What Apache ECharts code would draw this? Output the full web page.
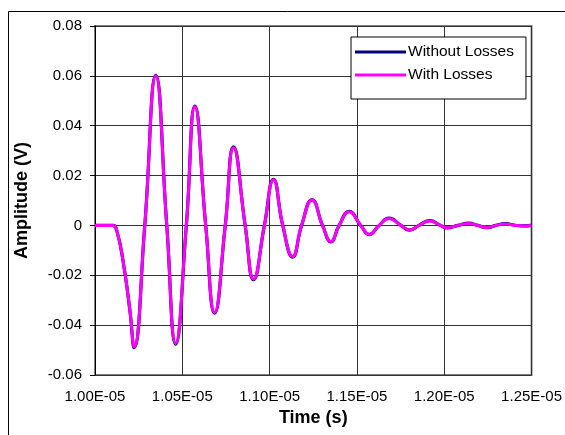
<!DOCTYPE html>
<html>
<head>
<meta charset="utf-8">
<script src="https://cdn.jsdelivr.net/npm/echarts@6/dist/echarts.min.js"></script>
<style>
html,body{margin:0;padding:0;background:#fff;}
#c{width:565px;height:435px;}
</style>
</head>
<body>
<div id="c"></div>
<script>
// Time in microseconds (axis shows seconds in E notation)
var timeUs = [10.000, 10.103, 10.126, 10.160, 10.200, 10.224, 10.285, 10.348, 10.411, 10.462,
  10.523, 10.572, 10.634, 10.685, 10.746, 10.793, 10.860, 10.908, 10.970, 11.022,
  11.075, 11.132, 11.183, 11.243, 11.303, 11.351, 11.398, 11.455, 11.522, 11.570,
  11.627, 11.684, 11.752, 11.802, 11.855, 11.916, 11.979, 12.017, 12.078, 12.140,
  12.192, 12.245, 12.295, 12.350, 12.409, 12.454, 12.500];
var withoutLosses = [0, 0, -0.0025, -0.0140, -0.0342, -0.0490, 0, 0.0602, 0, -0.0476,
  0, 0.0479, 0, -0.0352, 0, 0.0315, 0, -0.0218, 0, 0.0185,
  0, -0.0127, 0, 0.0103, 0, -0.0066, 0, 0.0056, 0, -0.0037,
  0, 0.0029, 0, -0.0019, 0, 0.0019, 0, -0.0010, 0, 0.0009,
  0, -0.0009, 0, 0.0007, 0, -0.0002, 0];
var withLosses = [0, 0, -0.0025, -0.0139, -0.0340, -0.0487, 0, 0.0599, 0, -0.0473,
  0, 0.0476, 0, -0.0349, 0, 0.0312, 0, -0.0215, 0, 0.0183,
  0, -0.0125, 0, 0.0102, 0, -0.0065, 0, 0.0055, 0, -0.0036,
  0, 0.0028, 0, -0.0018, 0, 0.0018, 0, -0.0009, 0, 0.0008,
  0, -0.0008, 0, 0.0006, 0, -0.0002, 0];
var seriesNames = ['Without Losses', 'With Losses'];
var xTickLabels = ['1.00E-05', '1.05E-05', '1.10E-05', '1.15E-05', '1.20E-05', '1.25E-05'];
var yTickLabels = ['-0.06', '-0.04', '-0.02', '0', '0.02', '0.04', '0.06', '0.08'];

function pairs(xs, ys) { return xs.map(function (x, i) { return [x, ys[i]]; }); }

var FONT = 'Arial, "Liberation Sans", sans-serif';
var chart = echarts.init(document.getElementById('c'), null, {renderer: 'canvas'});
chart.setOption({
  backgroundColor: '#fff',
  animation: false,
  textStyle: {fontFamily: FONT},
  graphic: [{
    type: 'rect', z: -10, silent: true,
    shape: {x: 8.5, y: 11.5, width: 700, height: 600},
    style: {fill: 'none', stroke: '#000', lineWidth: 1}
  }],
  grid: {
    left: 95, top: 26, right: 32, bottom: 60,
    show: true, borderColor: '#808080', borderWidth: 2, backgroundColor: 'transparent'
  },
  legend: {
    data: seriesNames,
    orient: 'vertical',
    left: 351, top: 37,
    backgroundColor: '#fff',
    borderColor: '#000', borderWidth: 1,
    padding: [7, 12, 16, 4],
    itemGap: 7,
    itemWidth: 51, itemHeight: 3,
    icon: 'rect',
    textStyle: {fontFamily: FONT, fontSize: 15.5, color: '#000', lineHeight: 16, padding: [0, 0, 0, -3]}
  },
  xAxis: {
    type: 'value',
    min: 10, max: 12.5, interval: 0.5,
    name: 'Time (s)', nameLocation: 'middle', nameGap: 32,
    nameTextStyle: {fontFamily: FONT, fontSize: 18, fontWeight: 'bold', color: '#000'},
    axisLine: {onZero: false, show: false},
    axisTick: {show: false},
    splitLine: {show: true, lineStyle: {color: '#333', width: 1}},
    axisLabel: {
      fontFamily: FONT, fontSize: 15, color: '#000', margin: 14,
      formatter: function (v) { return xTickLabels[Math.round((v - 10) / 0.5)]; }
    }
  },
  yAxis: {
    type: 'value',
    min: -0.06, max: 0.08, interval: 0.02,
    name: 'Amplitude (V)', nameLocation: 'middle', nameGap: 64,
    nameTextStyle: {fontFamily: FONT, fontSize: 18, fontWeight: 'bold', color: '#000'},
    axisLine: {show: true, lineStyle: {color: '#000', width: 1}},
    axisTick: {show: true, length: 5, lineStyle: {color: '#000'}},
    splitLine: {show: true, lineStyle: {color: '#333', width: 1}},
    axisLabel: {
      fontFamily: FONT, fontSize: 15, color: '#000', margin: 13,
      formatter: function (v) { return yTickLabels[Math.round((v + 0.06) / 0.02)]; }
    }
  },
  series: [{
    name: seriesNames[0], type: 'line', smooth: 0.5, showSymbol: false,
    data: pairs(timeUs, withoutLosses),
    lineStyle: {color: '#000080', width: 3.2}, itemStyle: {color: '#000080'}, z: 2
  }, {
    name: seriesNames[1], type: 'line', smooth: 0.5, showSymbol: false,
    data: pairs(timeUs, withLosses),
    lineStyle: {color: '#FF00FF', width: 3}, itemStyle: {color: '#FF00FF'}, z: 3
  }]
});
</script>
</body>
</html>
